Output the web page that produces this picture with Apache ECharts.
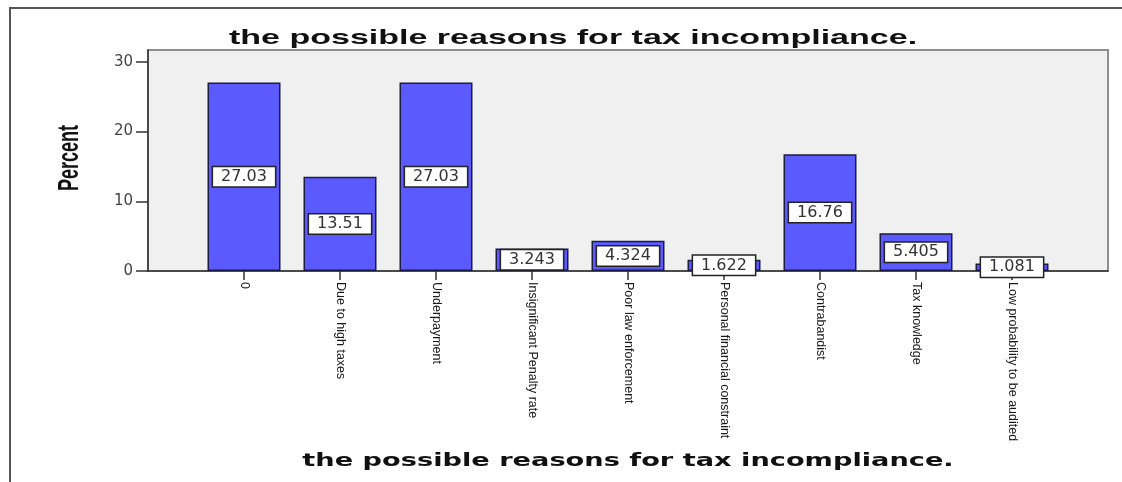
<!DOCTYPE html>
<html>
<head>
<meta charset="utf-8">
<script src="https://cdn.jsdelivr.net/npm/echarts@6/dist/echarts.min.js"></script>
<style>
    html, body { margin: 0; padding: 0; background: #fff; }
    #frame {
        position: absolute; left: 9px; top: 7px; width: 1200px; height: 600px;
        border-top: 2px solid #555; border-left: 2px solid #555;
    }
    #chart { position: absolute; left: 0; top: 0; width: 1122px; height: 482px; }
</style>
</head>
<body>
<div id="frame"></div>
<div id="chart"></div>
<script>
// reasons (x axis categories)
var categories = [
    "0",
    "Due to high taxes",
    "Underpayment",
    "Insignificant Penalty rate",
    "Poor law enforcement",
    "Personal financial constraint",
    "Contrabandist",
    "Tax knowledge",
    "Low probability to be audited"
];
// percent per reason
var percents = [27.03, 13.51, 27.03, 3.243, 4.324, 1.622, 16.76, 5.405, 1.081];
var yTicks = [0, 10, 20, 30];

var chartTitle = "the possible reasons for tax incompliance.";
var xTitle = "the possible reasons for tax incompliance.";
var yTitle = "Percent";

// SPSS style: half a slot empty at both ends -> pad the category axis
var axisCats = [""].concat(categories).concat([""]);
var axisVals = [null].concat(percents).concat([null]);

var myChart = echarts.init(document.getElementById("chart"));

var option = {
    animation: false,
    grid: {
        left: 148, right: 14, top: 50, bottom: 211,
        show: true,
        backgroundColor: "#f0f0f0",
        borderColor: "#8f8f8f",
        borderWidth: 2
    },
    graphic: [
        {
            type: "text", x: 573, y: 38, scaleX: 1.62,
            style: {
                text: chartTitle, font: "bold 21px 'Liberation Sans'", fill: "#111",
                textAlign: "center", textVerticalAlign: "middle",
                align: "center", verticalAlign: "middle"
            }
        },
        {
            type: "text", x: 628, y: 462, scaleX: 1.6,
            style: {
                text: xTitle, font: "bold 17px 'DejaVu Sans'", fill: "#111",
                textAlign: "center", textVerticalAlign: "middle",
                align: "center", verticalAlign: "middle"
            }
        },
        {
            type: "text", x: 70, y: 158, rotation: Math.PI / 2, scaleY: 1.6,
            style: {
                text: yTitle, font: "bold 18px 'Liberation Sans'", fill: "#111",
                textAlign: "center", textVerticalAlign: "middle",
                align: "center", verticalAlign: "middle"
            }
        }
    ],
    xAxis: {
        type: "category",
        data: axisCats,
        boundaryGap: false,
        axisLine: {lineStyle: {color: "#333", width: 1.5}},
        axisTick: {
            length: 9,
            lineStyle: {color: "#333", width: 1.5},
            interval: function (index, value) {
                return value !== "";
            }
        },
        axisLabel: {
            interval: 0,
            rotate: -90,
            margin: 11,
            color: "#1a1a1a",
            fontSize: 12.5,
            fontFamily: "Liberation Sans"
        }
    },
    yAxis: {
        type: "value",
        min: 0,
        max: 31.7,
        interval: 10,
        splitLine: {show: false},
        axisLine: {show: true, lineStyle: {color: "#333", width: 1.5}},
        axisTick: {
            show: true,
            length: 12,
            customValues: yTicks,
            lineStyle: {color: "#333", width: 1.5}
        },
        axisLabel: {
            customValues: yTicks,
            margin: 15,
            color: "#444",
            fontSize: 15,
            fontFamily: "DejaVu Sans"
        }
    },
    series: [
        {
            type: "bar",
            data: axisVals,
            barWidth: 73,
            itemStyle: {
                color: "#5a5aff",
                borderColor: "#1c1c40",
                borderWidth: 1.5
            },
            label: {
                show: true,
                position: "inside",
                color: "#333",
                fontSize: 16,
                fontFamily: "DejaVu Sans",
                backgroundColor: "#fff",
                borderColor: "#222",
                borderWidth: 1.5,
                padding: [2, 8, 1, 8]
            }
        }
    ]
};
myChart.setOption(option);
</script>
</body>
</html>
